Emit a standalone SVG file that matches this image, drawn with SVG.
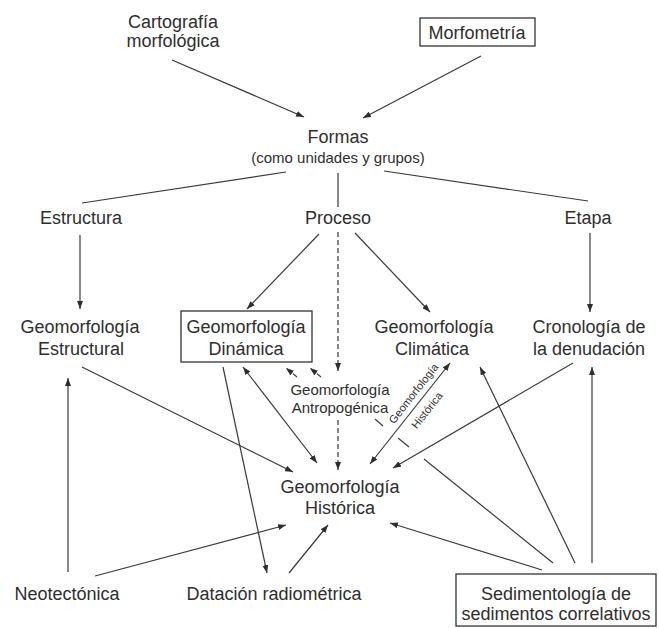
<svg xmlns="http://www.w3.org/2000/svg" width="659" height="628" viewBox="0 0 659 628">
<style>
text{font-family:"Liberation Sans",Arial,sans-serif;fill:#2e2e2e;text-anchor:middle;font-size:18px}
.s{font-size:15px}
.xs{font-size:11px}
.box{fill:none;stroke:#333;stroke-width:1.3}
.c line,.c path{stroke:#3a3a3a;stroke-width:1.2;fill:none}
.a{marker-end:url(#ah)}
.d2{marker-start:url(#ah);marker-end:url(#ah)}
.dash{stroke-dasharray:5 3}
</style>
<defs>
<marker id="ah" viewBox="0 0 8 6" refX="8" refY="3" markerWidth="8" markerHeight="6" markerUnits="userSpaceOnUse" orient="auto-start-reverse">
<path d="M0,0 L8,3 L0,6 z" fill="#2e2e2e"/>
</marker>
</defs>
<g id="cartografia"><text x="173" y="28">Cartografía</text><text x="173" y="47">morfológica</text></g>
<g id="morfometria"><rect class="box" x="420" y="18" width="115" height="28"/><text x="477" y="39">Morfometría</text></g>
<g id="formas"><text x="338" y="143">Formas</text><text class="s" x="338" y="163">(como unidades y grupos)</text></g>
<g id="estructura"><text x="81" y="224">Estructura</text></g>
<g id="proceso"><text x="338" y="224">Proceso</text></g>
<g id="etapa"><text x="588" y="224">Etapa</text></g>
<g id="geo-estructural"><text x="80" y="333">Geomorfología</text><text x="81" y="355">Estructural</text></g>
<g id="geo-dinamica"><rect class="box" x="181" y="311" width="131" height="51"/><text x="246" y="333">Geomorfología</text><text x="246" y="355">Dinámica</text></g>
<g id="geo-climatica"><text x="434" y="333">Geomorfología</text><text x="432" y="355">Climática</text></g>
<g id="cronologia"><text x="589" y="333">Cronología de</text><text x="589" y="355">la denudación</text></g>
<g id="geo-antropogenica"><text class="s" x="340" y="395">Geomorfología</text><text class="s" x="340" y="413">Antropogénica</text></g>
<g id="geo-historica"><text x="340" y="493">Geomorfología</text><text x="340" y="514">Histórica</text></g>
<g id="neotectonica"><text x="67" y="600">Neotectónica</text></g>
<g id="datacion"><text x="274" y="600">Datación radiométrica</text></g>
<g id="sedimentologia"><rect class="box" x="456" y="574" width="200" height="52"/><text x="556" y="600">Sedimentología de</text><text x="556" y="620">sedimentos correlativos</text></g>
<g id="connectors" class="c">
<line class="a" x1="172" y1="60" x2="304" y2="117"/>
<line class="a" x1="481" y1="56" x2="363" y2="118"/>
<line x1="286" y1="172" x2="82" y2="203"/>
<line x1="338" y1="173" x2="338" y2="207"/>
<line x1="384" y1="171" x2="588" y2="201"/>
<line class="a" x1="80" y1="235" x2="80" y2="309"/>
<line class="a" x1="319" y1="234" x2="247" y2="309"/>
<line class="a" x1="355" y1="233" x2="430" y2="312"/>
<line class="a" x1="590" y1="233" x2="590" y2="312"/>
<line class="a dash" x1="338" y1="232" x2="338" y2="371"/>
<line class="a dash" x1="338" y1="420" x2="338" y2="470"/>
<line class="a dash" x1="297" y1="377" x2="286" y2="368"/>
<line class="a dash" x1="321" y1="377" x2="310" y2="368"/>
<line class="a" x1="82" y1="367" x2="293" y2="472"/>
<line class="a" x1="223" y1="367" x2="267" y2="573"/>
<line class="d2" x1="243" y1="367" x2="317" y2="463"/>
<line class="d2" x1="370" y1="464" x2="450" y2="363"/>
<line class="a" x1="573" y1="363" x2="393" y2="468"/>
<line class="a" x1="68" y1="572" x2="68" y2="378"/>
<line class="a" x1="95" y1="576" x2="286" y2="525"/>
<line class="a" x1="289" y1="573" x2="328" y2="525"/>
<line class="a" x1="575" y1="563" x2="480" y2="367"/>
<line class="a" x1="542" y1="570" x2="390" y2="523"/>
<line class="a" x1="592" y1="563" x2="592" y2="367"/>
<line x1="553" y1="563" x2="424" y2="459"/>
<line x1="409" y1="447" x2="398" y2="438"/>
<line x1="383" y1="426" x2="375" y2="419"/>
</g>
<g id="label-historica" transform="translate(420,401) rotate(-52)"><text class="xs" x="2" y="-6">Geomorfología</text><text class="xs" x="-3" y="15">Histórica</text></g>
</svg>
